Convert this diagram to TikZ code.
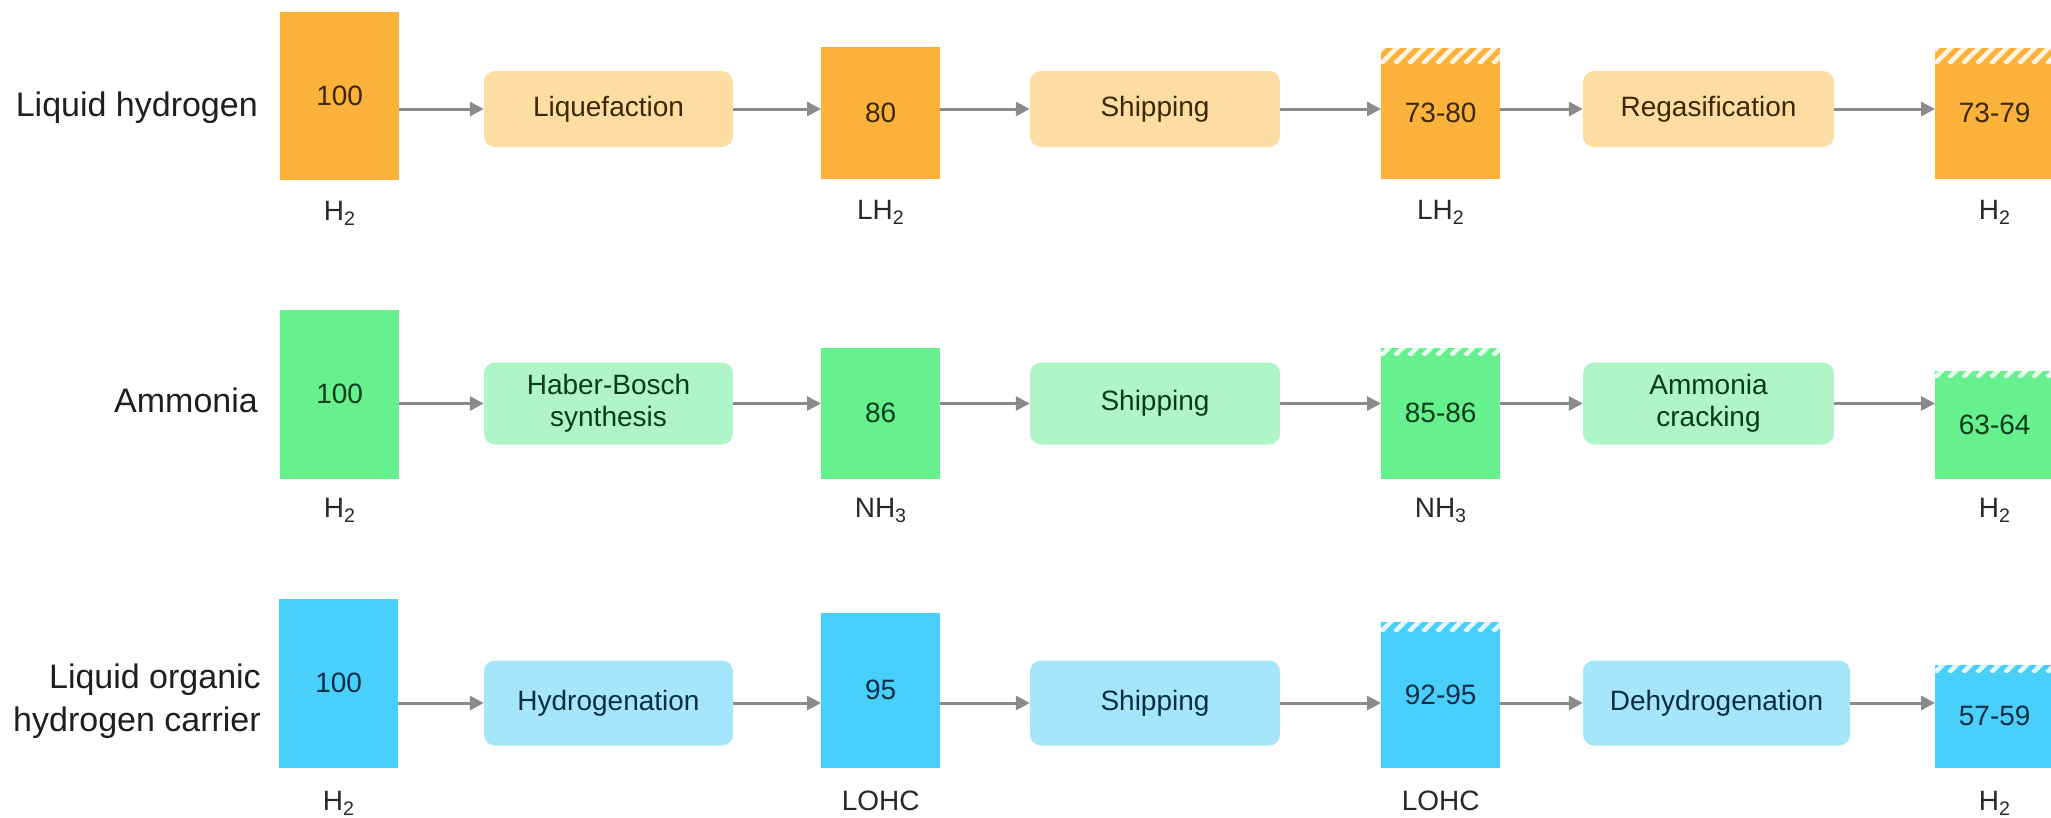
\documentclass[tikz,border=0pt]{standalone}
\usepackage{fontspec}
\setmainfont{Liberation Sans}
\usetikzlibrary{arrows.meta}

% fills and text colours of the three chains
\definecolor{orgbar}{RGB}{251,178,58}
\definecolor{orgproc}{RGB}{253,221,162}
\definecolor{orgtxt}{RGB}{60,40,5}
\definecolor{grnbar}{RGB}{102,240,142}
\definecolor{grnproc}{RGB}{176,245,200}
\definecolor{grntxt}{RGB}{8,60,28}
\definecolor{blubar}{RGB}{72,208,250}
\definecolor{bluproc}{RGB}{166,230,250}
\definecolor{blutxt}{RGB}{6,45,72}
\definecolor{arrgray}{RGB}{138,138,140}
\definecolor{lbltxt}{RGB}{40,40,40}

% white diagonal stripes over the top #2 pt of bar #1
\newcommand\hatchtop[2]{%
  \begin{scope}
    \clip (#1.north west) rectangle ([yshift=-#2pt]#1.north east);
    \foreach \k in {-3,...,10}
      \draw[hatchline] ([xshift=\k*14pt, yshift=-#2pt]#1.north west) -- ++(24,-24);
  \end{scope}}

\begin{document}
\begin{tikzpicture}[x=1pt,y=-1pt,
  bar/.style={rectangle, inner sep=0pt, minimum width=119pt, anchor=south west,
    font=\fontsize{28}{32}\selectfont},
  proc/.style={rectangle, rounded corners=11pt, inner sep=0pt, align=center,
    font=\fontsize{28}{32}\selectfont},
  sub/.style={anchor=base, inner sep=0pt, text=lbltxt,
    font=\fontsize{28}{32}\selectfont},
  rowlbl/.style={anchor=east, inner sep=0pt, align=right, text=black!88,
    font=\fontsize{34}{43}\selectfont},
  arr/.style={draw=arrgray, line width=3pt,
    -{Triangle[length=14pt,width=14pt]}},
  hatchline/.style={draw=white, opacity=0.85, line width=4.5pt},
]
\useasboundingbox (0,0) rectangle (2051,817);

% ---------- liquid hydrogen ----------
\node[rowlbl] (lhT) at (258,108) {Liquid hydrogen};
\node[bar, fill=orgbar, text=orgtxt, minimum height=168pt] (l1) at (280,180) {100};
\node[proc, fill=orgproc, text=orgtxt, minimum width=249pt, minimum height=76pt] (lp1) at (608.5,109) {Liquefaction};
\node[bar, fill=orgbar, text=orgtxt, minimum height=132pt] (l2) at (821,179) {80};
\node[proc, fill=orgproc, text=orgtxt, minimum width=250pt, minimum height=76pt] (lp2) at (1155,109) {Shipping};
\node[bar, fill=orgbar, text=orgtxt, minimum height=131pt] (l3) at (1381,179) {73-80};
\node[proc, fill=orgproc, text=orgtxt, minimum width=251pt, minimum height=76pt] (lp3) at (1708.5,109) {Regasification};
\node[bar, fill=orgbar, text=orgtxt, minimum height=131pt] (l4) at (1935,179) {73-79};
\hatchtop{l3}{16}
\hatchtop{l4}{16}
\node[sub] (l1s) at ([yshift=-40pt]l1.south) {H\textsubscript{2}};
\node[sub] (l2s) at ([yshift=-40pt]l2.south) {LH\textsubscript{2}};
\node[sub] (l3s) at ([yshift=-40pt]l3.south) {LH\textsubscript{2}};
\node[sub] (l4s) at ([yshift=-40pt]l4.south) {H\textsubscript{2}};
\draw[arr] (l1.east |- lp1.west) -- (lp1.west);
\draw[arr] (lp1.east) -- (lp1.east -| l2.west);
\draw[arr] (l2.east |- lp2.west) -- (lp2.west);
\draw[arr] (lp2.east) -- (lp2.east -| l3.west);
\draw[arr] (l3.east |- lp3.west) -- (lp3.west);
\draw[arr] (lp3.east) -- (lp3.east -| l4.west);

% ---------- ammonia ----------
\node[rowlbl] (amT) at (258,400) {Ammonia};
\node[bar, fill=grnbar, text=grntxt, minimum height=169pt] (a1) at (280,479) {100};
\node[proc, fill=grnproc, text=grntxt, minimum width=249pt, minimum height=82pt] (ap1) at (608.5,403.5) {Haber-Bosch\\synthesis};
\node[bar, fill=grnbar, text=grntxt, minimum height=131pt] (a2) at (821,479) {86};
\node[proc, fill=grnproc, text=grntxt, minimum width=250pt, minimum height=82pt] (ap2) at (1155,403.5) {Shipping};
\node[bar, fill=grnbar, text=grntxt, minimum height=131pt] (a3) at (1381,479) {85-86};
\node[proc, fill=grnproc, text=grntxt, minimum width=251pt, minimum height=82pt] (ap3) at (1708.5,403.5) {Ammonia\\cracking};
\node[bar, fill=grnbar, text=grntxt, minimum height=108pt] (a4) at (1935,479) {63-64};
\hatchtop{a3}{8}
\hatchtop{a4}{7}
\node[sub] (a1s) at ([yshift=-38pt]a1.south) {H\textsubscript{2}};
\node[sub] (a2s) at ([yshift=-38pt]a2.south) {NH\textsubscript{3}};
\node[sub] (a3s) at ([yshift=-38pt]a3.south) {NH\textsubscript{3}};
\node[sub] (a4s) at ([yshift=-38pt]a4.south) {H\textsubscript{2}};
\draw[arr] (a1.east |- ap1.west) -- (ap1.west);
\draw[arr] (ap1.east) -- (ap1.east -| a2.west);
\draw[arr] (a2.east |- ap2.west) -- (ap2.west);
\draw[arr] (ap2.east) -- (ap2.east -| a3.west);
\draw[arr] (a3.east |- ap3.west) -- (ap3.west);
\draw[arr] (ap3.east) -- (ap3.east -| a4.west);

% ---------- liquid organic hydrogen carrier ----------
\node[rowlbl] (ohT) at (261,701) {Liquid organic\\hydrogen carrier};
\node[bar, fill=blubar, text=blutxt, minimum height=169pt] (o1) at (279,768) {100};
\node[proc, fill=bluproc, text=blutxt, minimum width=249pt, minimum height=85pt] (op1) at (608.5,703) {Hydrogenation};
\node[bar, fill=blubar, text=blutxt, minimum height=155pt] (o2) at (821,768) {95};
\node[proc, fill=bluproc, text=blutxt, minimum width=250pt, minimum height=85pt] (op2) at (1155,703) {Shipping};
\node[bar, fill=blubar, text=blutxt, minimum height=146pt] (o3) at (1381,768) {92-95};
\node[proc, fill=bluproc, text=blutxt, minimum width=267pt, minimum height=85pt] (op3) at (1716.5,703) {Dehydrogenation};
\node[bar, fill=blubar, text=blutxt, minimum height=103pt] (o4) at (1935,768) {57-59};
\hatchtop{o3}{10}
\hatchtop{o4}{8}
\node[sub] (o1s) at ([yshift=-42pt]o1.south) {H\textsubscript{2}};
\node[sub] (o2s) at ([yshift=-42pt]o2.south) {LOHC};
\node[sub] (o3s) at ([yshift=-42pt]o3.south) {LOHC};
\node[sub] (o4s) at ([yshift=-42pt]o4.south) {H\textsubscript{2}};
\draw[arr] (o1.east |- op1.west) -- (op1.west);
\draw[arr] (op1.east) -- (op1.east -| o2.west);
\draw[arr] (o2.east |- op2.west) -- (op2.west);
\draw[arr] (op2.east) -- (op2.east -| o3.west);
\draw[arr] (o3.east |- op3.west) -- (op3.west);
\draw[arr] (op3.east) -- (op3.east -| o4.west);
\end{tikzpicture}
\end{document}
